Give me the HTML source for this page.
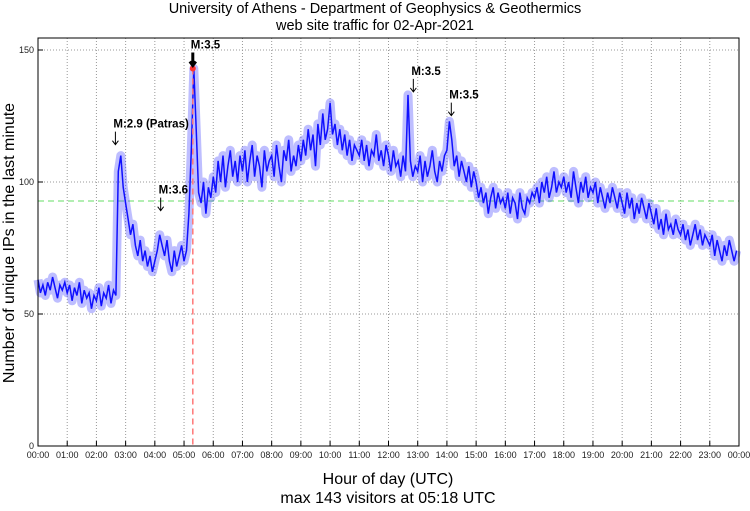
<!DOCTYPE html>
<html><head><meta charset="utf-8"><style>
body{margin:0;background:#fff;}
svg{display:block;font-family:"Liberation Sans",sans-serif;}
</style></head><body>
<svg id="chart" width="750" height="511" viewBox="0 0 750 511">
<text x="375" y="13" text-anchor="middle" font-size="14.5">University of Athens - Department of Geophysics &amp; Geothermics</text>
<text x="375" y="30" text-anchor="middle" font-size="14.5">web site traffic for 02-Apr-2021</text>
<g id="grid"></g>
<g id="series"></g>
<g id="axes"></g>
<text transform="translate(14,243) rotate(-90)" text-anchor="middle" font-size="16">Number of unique IPs in the last minute</text>
<text x="388" y="484" text-anchor="middle" font-size="16">Hour of day (UTC)</text>
<text x="388" y="503" text-anchor="middle" font-size="16">max 143 visitors at 05:18 UTC</text>
</svg>
<script>
const yTicks=[0,50,100,150];
const hourLabels=["00:00","01:00","02:00","03:00","04:00","05:00","06:00","07:00","08:00","09:00","10:00","11:00","12:00","13:00","14:00","15:00","16:00","17:00","18:00","19:00","20:00","21:00","22:00","23:00","00:00"];
const meanValue=92.8;
const maxHour=5.3;
const visits=[
63,58,61,57,62,59,64,60,56,61,59,62,
58,61,55,60,57,62,54,59,56,58,52,57,
55,60,53,58,56,61,54,59,57,104,110,98,
92,86,80,84,76,72,78,70,74,68,72,66,
70,74,80,76,72,78,70,66,74,68,72,76,
70,74,88,112,143,120,96,92,100,88,98,94,
102,96,108,100,110,98,106,112,102,108,100,110,
104,112,100,108,114,102,110,106,98,112,104,108,
110,102,114,106,100,112,108,116,104,110,106,114,
108,116,110,120,112,118,106,122,114,126,116,120,
130,118,122,114,120,112,118,110,116,108,114,112,
110,116,108,114,106,112,110,118,108,112,106,114,
110,104,112,106,108,102,110,104,133,108,102,106,
104,110,100,108,102,106,112,104,100,108,104,110,
112,123,116,106,110,102,108,104,100,106,98,104,
100,94,98,92,96,88,94,98,90,96,92,94,
90,96,88,94,92,86,96,90,88,94,92,96,
94,98,92,100,96,102,94,98,104,96,100,98,
102,96,100,94,104,98,92,100,96,102,94,98,
96,100,92,98,94,90,96,92,98,94,90,96,
92,88,96,90,94,86,92,88,94,90,86,92,
88,84,90,82,86,80,88,82,84,80,86,82,
80,84,78,82,76,80,84,78,82,76,80,78,
76,80,72,78,74,70,76,72,78,74,70,74];
const quakeLabels=["M:2.9 (Patras)","M:3.6","M:3.5","M:3.5","M:3.5"];
const quakeHours=[2.65,4.2,5.3,12.85,14.15];
const quakeValues=[113,88,143,133,124];

const X0=38,X1=739,Y0=446,Y1=38,YMAX=(446-38)/2.64;
const xs=h=>X0+h/24*(X1-X0);
const ys=v=>Y0-v/YMAX*(Y0-Y1);
const NS="http://www.w3.org/2000/svg";
function mk(tag,attrs,parent){const e=document.createElementNS(NS,tag);for(const k in attrs)e.setAttribute(k,attrs[k]);parent.appendChild(e);return e;}
const grid=document.getElementById('grid'),series=document.getElementById('series'),axes=document.getElementById('axes');
mk('rect',{x:X0,y:Y1,width:X1-X0,height:Y0-Y1,fill:'#fff',stroke:'none'},grid);
hourLabels.forEach((l,i)=>{
  const x=xs(i);
  if(i>0&&i<24){const g=mk('line',{x1:x,x2:x,y1:Y1,y2:Y0,stroke:'#999','stroke-dasharray':'1,2','stroke-width':1},grid);
  
  }
  const t=mk('line',{x1:x,x2:x,y1:Y0,y2:Y0-5,stroke:'#000'},axes);
  
  
  const tx=mk('text',{x:x,y:Y0+12,'text-anchor':'middle','font-size':9,fill:'#222'},axes);tx.textContent=l;
  
  
});
yTicks.forEach(v=>{
  const y=ys(v);
  if(v>0){const g=mk('line',{x1:X0,x2:X1,y1:y,y2:y,stroke:'#999','stroke-dasharray':'1,2'},grid);
  
  }
  const t=mk('line',{x1:X0,x2:X0+5,y1:y,y2:y,stroke:'#000'},axes);
  
  
  const tx=mk('text',{x:X0-4,y:y+3,'text-anchor':'end','font-size':9,fill:'#222'},axes);tx.textContent=v;
  
  
});
const fr=mk('rect',{x:X0,y:Y1,width:X1-X0,height:Y0-Y1,fill:'none',stroke:'#000'},axes);


const mean=mk('line',{x1:X0,x2:X1,y1:ys(meanValue),y2:ys(meanValue),stroke:'#66dd66','stroke-dasharray':'6,4'},series);


const pts=visits.map((v,i)=>xs(i*24/visits.length).toFixed(1)+','+ys(v).toFixed(1)).join(' ');
const band=mk('polyline',{points:pts,fill:'none',stroke:'rgba(70,70,255,0.35)','stroke-width':9,'stroke-linejoin':'round'},series);


const ln=mk('polyline',{points:pts,fill:'none',stroke:'#1010ff','stroke-width':1.5},series);


const mx=mk('line',{x1:xs(maxHour),x2:xs(maxHour),y1:ys(143),y2:Y0,stroke:'#f77','stroke-dasharray':'6,4','stroke-width':1.5},series);


const c=mk('circle',{cx:xs(maxHour),cy:ys(143),r:3,fill:'#f33'},series);


quakeLabels.forEach((l,i)=>{
  const x=xs(quakeHours[i]),y=ys(quakeValues[i])-3;
  const a=mk('path',{d:`M${x},${y-13}V${y}M${x-3},${y-4}L${x},${y}L${x+3},${y-4}`,stroke:'#000',fill:'none','stroke-width':i==2?3:1},series);
  
  
  const t=mk('text',{x:x-2,y:y-17,'font-size':11.5,'font-weight':'bold'},series);t.textContent=l;
  
  
});
</script>
</body></html>
